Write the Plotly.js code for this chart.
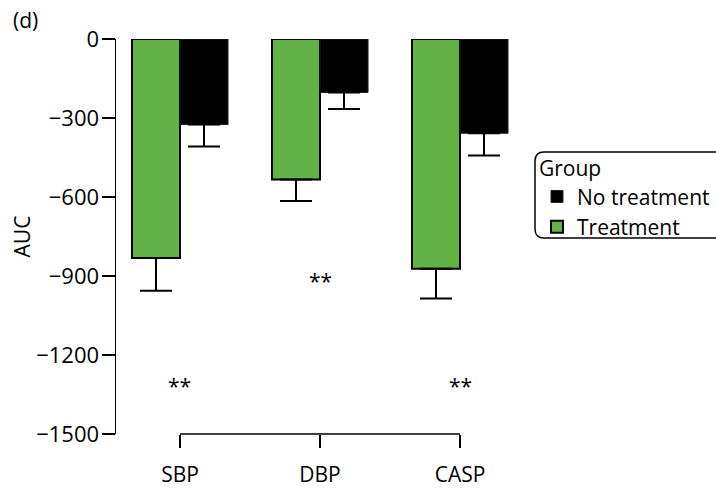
<!DOCTYPE html>
<html>
<head>
<meta charset="utf-8">
<script src="https://cdn.plot.ly/plotly-3.0.1.min.js"></script>
<style>
  html, body { margin: 0; padding: 0; background: #fff; }
  #chart { width: 716px; height: 488px; }
</style>
</head>
<body>
<div id="chart"></div>
<script>
// Area under the curve by measure and group
const categories = ['SBP', 'DBP', 'CASP'];
const treatmentAUC = [-832, -534, -872];
const treatmentSE = [124, 81, 113];
const noTreatmentAUC = [-325, -203, -358];
const noTreatmentSE = [83, 63, 84];
const yTicks = [0, -300, -600, -900, -1200, -1500];
const sigLabels = ['**', '**', '**'];
const sigPositions = [-1300, -900, -1300];

const W = 716, H = 488;
const M = { l: 116, r: 186, t: 39, b: 54, autoexpand: false };
const plotW = W - M.l - M.r, plotH = H - M.t - M.b;
const px2x = px => (px - M.l) / plotW;
const px2y = py => (H - M.b - py) / plotH;

const FONT = 'Open Sans, Noto Sans, DejaVu Sans, sans-serif';
const GREEN = '#63b246';

const traces = [
  {
    type: 'bar', name: 'Treatment', x: categories, y: treatmentAUC,
    marker: { color: GREEN, line: { color: '#000', width: 2 } },
    error_y: { type: 'data', symmetric: false, array: treatmentAUC.map(() => 0),
               arrayminus: treatmentSE, color: '#000', thickness: 2, width: 16 },
    legendrank: 2, hoverinfo: 'x+y'
  },
  {
    type: 'bar', name: 'No treatment', x: categories, y: noTreatmentAUC,
    marker: { color: '#000', line: { color: '#222', width: 1 } },
    error_y: { type: 'data', symmetric: false, array: noTreatmentAUC.map(() => 0),
               arrayminus: noTreatmentSE, color: '#000', thickness: 2, width: 16 },
    legendrank: 1, hoverinfo: 'x+y'
  }
];

// rounded frame behind the legend
function roundedRect(x0, y0, x1, y1, r) {
  const X = px2x, Y = px2y;
  return `M ${X(x0 + r)},${Y(y0)} L ${X(x1 - r)},${Y(y0)} Q ${X(x1)},${Y(y0)} ${X(x1)},${Y(y0 + r)} ` +
         `L ${X(x1)},${Y(y1 - r)} Q ${X(x1)},${Y(y1)} ${X(x1 - r)},${Y(y1)} ` +
         `L ${X(x0 + r)},${Y(y1)} Q ${X(x0)},${Y(y1)} ${X(x0)},${Y(y1 - r)} ` +
         `L ${X(x0)},${Y(y0 + r)} Q ${X(x0)},${Y(y0)} ${X(x0 + r)},${Y(y0)} Z`;
}

const annotations = categories.map((c, i) => ({
  x: c, y: sigPositions[i], xref: 'x', yref: 'y', text: sigLabels[i],
  showarrow: false, font: { family: FONT, size: 21, color: '#000' }, yshift: -5
}));
annotations.push({
  x: px2x(11), y: px2y(20), xref: 'paper', yref: 'paper', text: '(d)',
  xanchor: 'left', yanchor: 'middle', showarrow: false,
  font: { family: FONT, size: 21, color: '#000' }
});

const layout = {
  width: W, height: H,
  margin: M,
  paper_bgcolor: '#fff', plot_bgcolor: '#fff',
  font: { family: FONT, size: 21, color: '#000' },
  barmode: 'group', bargap: 0.314, bargroupgap: 0,
  showlegend: true,
  legend: {
    x: px2x(537), y: px2y(149), xanchor: 'left', yanchor: 'top',
    bgcolor: 'rgba(0,0,0,0)', borderwidth: 0,
    title: { text: 'Group', font: { family: FONT, size: 21 } },
    font: { family: FONT, size: 21, color: '#000' },
    tracegroupgap: 0, itemwidth: 30
  },
  xaxis: {
    type: 'category', range: [-0.4571, 2.5],
    showline: false, showgrid: false, zeroline: false,
    ticks: 'outside', ticklen: 13, tickwidth: 1.5, tickcolor: '#000',
    ticklabelstandoff: 9,
    tickfont: { family: FONT, size: 21 }
  },
  yaxis: {
    range: [-1500, 0],
    tickvals: yTicks,
    showline: true, linecolor: '#000', linewidth: 1.5,
    showgrid: false, zeroline: false,
    ticks: 'outside', ticklen: 13, tickwidth: 1.5, tickcolor: '#000',
    ticklabelstandoff: -2,
    tickfont: { family: FONT, size: 22 },
    title: { text: 'AUC', font: { family: FONT, size: 21 }, standoff: 0 }
  },
  shapes: [
    { type: 'line', xref: 'x', yref: 'paper', x0: 0, x1: categories.length - 1,
      y0: 0, y1: 0, line: { color: '#000', width: 1.5 } },
    { type: 'path', xref: 'paper', yref: 'paper', path: roundedRect(535, 152, 740, 238, 9),
      line: { color: '#000', width: 1.5 }, fillcolor: 'rgba(0,0,0,0)' }
  ],
  annotations: annotations
};

Plotly.newPlot('chart', traces, layout, { displayModeBar: false, staticPlot: true });
</script>
</body>
</html>
